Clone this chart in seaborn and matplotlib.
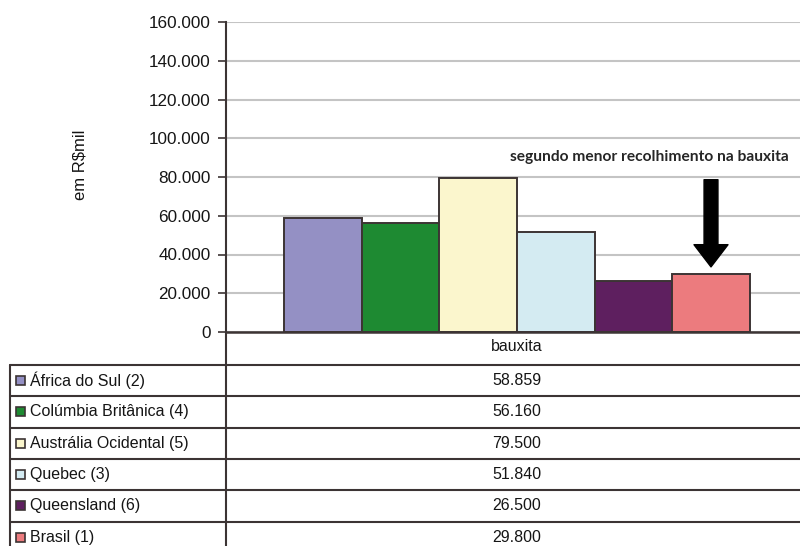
import seaborn as sns
import matplotlib.pyplot as plt
import pandas as pd
from matplotlib.ticker import FuncFormatter
from matplotlib.patches import Rectangle

# data
paises = ["África do Sul (2)", "Colúmbia Britânica (4)", "Austrália Ocidental (5)",
          "Quebec (3)", "Queensland (6)", "Brasil (1)"]
valores = [58859, 56160, 79500, 51840, 26500, 29800]
cores = ["#9490c4", "#1e8a32", "#fbf6cd", "#d4ebf2", "#5e1f5f", "#ec7b7e"]
categoria = "bauxita"
y_ticks = list(range(0, 160001, 20000))
nota = "segundo menor recolhimento na bauxita"

df = pd.DataFrame({"mineral": [categoria] * len(paises), "pais": paises, "valor": valores})
palette = dict(zip(paises, cores))

sns.set_theme(style="white")
plt.rcParams["font.family"] = ["Liberation Sans", "DejaVu Sans"]

W, H = 800, 546
fig = plt.figure(figsize=(W / 100, H / 100), dpi=100)

line_col = "#3c3434"
grid_col = "#c4c4c4"
txt_col = "#151515"

# plot area in pixels: x 226..808, y 22..332
ax = fig.add_axes([226 / W, (H - 332) / H, 582 / W, 310 / H])
sns.barplot(data=df, x="mineral", y="valor", hue="pais", palette=palette,
            width=0.8, gap=0, edgecolor=line_col, linewidth=1.4,
            saturation=1, legend=False, ax=ax)
ax.set_xlim(-0.5, 0.5)
ax.set_ylim(0, 160000)
ax.set_yticks(y_ticks)
ax.yaxis.set_major_formatter(FuncFormatter(lambda v, p: f"{int(v):,}".replace(",", ".")))
ax.yaxis.grid(True, color=grid_col, linewidth=1.5)
ax.set_axisbelow(True)
for s in ["top", "right"]:
    ax.spines[s].set_visible(False)
ax.spines["left"].set_color(line_col)
ax.spines["left"].set_linewidth(1.5)
ax.spines["bottom"].set_color(line_col)
ax.spines["bottom"].set_linewidth(1.8)
ax.tick_params(axis="y", length=6, width=1.2, color=line_col, pad=5,
               labelsize=12.3, labelcolor=txt_col, left=True)
ax.tick_params(axis="x", length=0, pad=5, labelsize=11.5, labelcolor=txt_col)
ax.set_xlabel("")
ax.set_ylabel("")

fig.text(80 / W, 1 - 165 / H, "em R\\$mil", rotation=90, ha="center", va="center",
         fontsize=12, color=txt_col)

# arrow pointing at Brasil bar
bar = ax.containers[-1][0]
bx = bar.get_x() + bar.get_width() / 2
bh = bar.get_height()
ax.annotate("", xy=(bx, bh + 3800), xytext=(bx, 78600),
            arrowprops=dict(arrowstyle="simple,head_width=2.45,head_length=1.6,tail_width=1.0",
                            color="black", shrinkA=0, shrinkB=0, mutation_scale=10))
ax.text(0.228, 90500, nota, ha="center", va="center", fontsize=11.2,
        family=["Lato", "DejaVu Sans"], fontweight="bold", color="#262626")

# data table below the chart (pixel units inside this axes)
tx = fig.add_axes([10 / W, (H - 553) / H, 798 / W, 221 / H])
tx.set_xlim(0, 798)
tx.set_ylim(221, 0)
tx.axis("off")
header_h = 33
row_h = 31.33
col_x = 216
tx.plot([col_x, col_x], [0, 221], color=line_col, lw=1.5, clip_on=False)
tx.plot([0, 0], [header_h, 221], color=line_col, lw=1.5, clip_on=False)
for i in range(len(paises) + 1):
    yy = header_h + i * row_h
    tx.plot([0, 798], [yy, yy], color=line_col, lw=1.5, clip_on=False)
for i, (p, v, c) in enumerate(zip(paises, valores, cores)):
    yc = header_h + (i + 0.5) * row_h
    tx.add_patch(Rectangle((5.5, yc - 4.5), 9, 9, facecolor=c, edgecolor=line_col, lw=1.2))
    tx.text(20, yc, p, ha="left", va="center", fontsize=11.5, color=txt_col)
    tx.text(507, yc, f"{v:,}".replace(",", "."), ha="center", va="center",
            fontsize=11.5, color=txt_col)

fig.savefig("out.png", dpi=100)
